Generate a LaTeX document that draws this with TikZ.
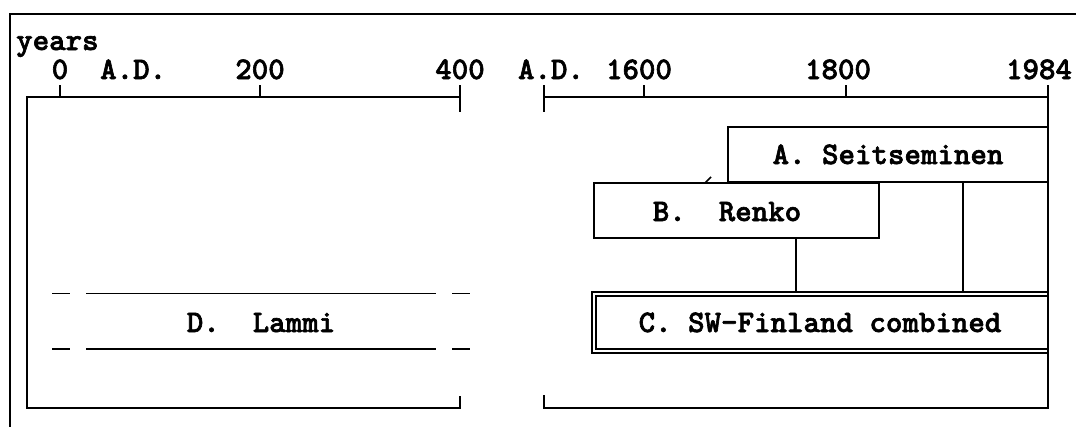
\documentclass[tikz,border=0pt]{standalone}
\usepackage{fontspec}
\usetikzlibrary{calc}
\newfontfamily\lmdark{lmmonolt10-bold.otf}[FakeBold=2]
\newcommand\lblfont{\lmdark\fontsize{31.4}{34}\selectfont\frenchspacing}
\begin{document}
\begin{tikzpicture}[x=1pt,y=-1pt,
  every node/.style={font=\lblfont, inner sep=0pt},
  ax/.style={line width=2pt},
  frame/.style={line width=2.2pt},
  boxst/.style={draw, line width=1.8pt, inner sep=0pt, text height=19pt, text depth=0pt},
  conn/.style={line width=1.5pt},
  lammi/.style={line width=1.8pt}]
\fill[white] (0,0) rectangle (1076,426);
\useasboundingbox (0,0) rectangle (1076,426);
% outer frame (cropped)
\draw[frame] (10,430) -- (10,14) -- (1080,14);
% axis labels
\node[anchor=base west] (yr) at (16,50) {years};
\node[anchor=base] (t0) at (60,79) {0};
\node[anchor=base west] (ad1) at (100,79) {A.D.};
\node[anchor=base] (t200) at (260,79) {200};
\node[anchor=base] (t400) at (460,79) {400};
\node[anchor=base] (ad2) at (551,79) {A.D.};
\node[anchor=base] (t1600) at (639,79) {1600};
\node[anchor=base] (t1800) at (838,79) {1800};
\node[anchor=base] (t1984) at (1039,79) {1984};
% left axis
\coordinate (LA) at (27,97);
\coordinate (LB) at (460,97);
\coordinate (LBL) at (27,408);
\coordinate (LBR) at (460,408);
\draw[ax] ($(LBR)+(0,-12)$) -- (LBR) -- (LBL) -- (LA) -- (LB);
\draw[ax] ($(LB)+(0,-12)$) -- ($(LB)+(0,15)$);
\draw[ax] (60,97) -- (60,85);
\draw[ax] (260,97) -- (260,85);
% right axis
\coordinate (RA) at (544,97);
\coordinate (RB) at (1048,97);
\coordinate (RBL) at (544,408);
\coordinate (RBR) at (1048,408);
\draw[ax] ($(RA)+(0,-12)$) -- ($(RA)+(0,15)$);
\draw[ax] (RA) -- (RB);
\draw[ax] ($(RB)+(0,-12)$) -- (RBR) -- (RBL) -- ($(RBL)+(0,-13)$);
\draw[ax] (644,97) -- (644,85);
\draw[ax] (846,97) -- (846,85);
% boxes
\node[boxst, minimum width=320pt, minimum height=55pt] (A) at (888,154.5) {A. Seitseminen};
\node[boxst, minimum width=285pt, minimum height=55pt] (B) at (736.5,210.5) {};
\node[anchor=base] (Bt) at (727,221) {B.\ \ Renko};
\node[boxst, minimum width=456pt, minimum height=61pt] (C) at (820,322.5) {C. SW-Finland combined};
\draw[conn] ($(C.north east)+(0,5)$) -| ($(C.south west)+(5,-5)$) -- ($(C.south east)+(0,-5)$);
% connectors
\coordinate (b1) at ($(B.south)+(59.5,0)$);
\draw[conn] (b1) -- (b1 |- C.north);
\coordinate (a1) at ($(A.south)+(75,0)$);
\draw[conn] (a1) -- (a1 |- C.north);
% small mark
\draw[conn] (705,183) -- (711,177);
% Lammi
\foreach \yy in {293.5,349} {
  \draw[lammi] (52,\yy) -- (70,\yy);
  \draw[lammi] (86,\yy) -- (436,\yy);
  \draw[lammi] (452,\yy) -- (470,\yy);
}
\node[anchor=base] (D) at (261,332) {D.\ \ Lammi};
\end{tikzpicture}
\end{document}
